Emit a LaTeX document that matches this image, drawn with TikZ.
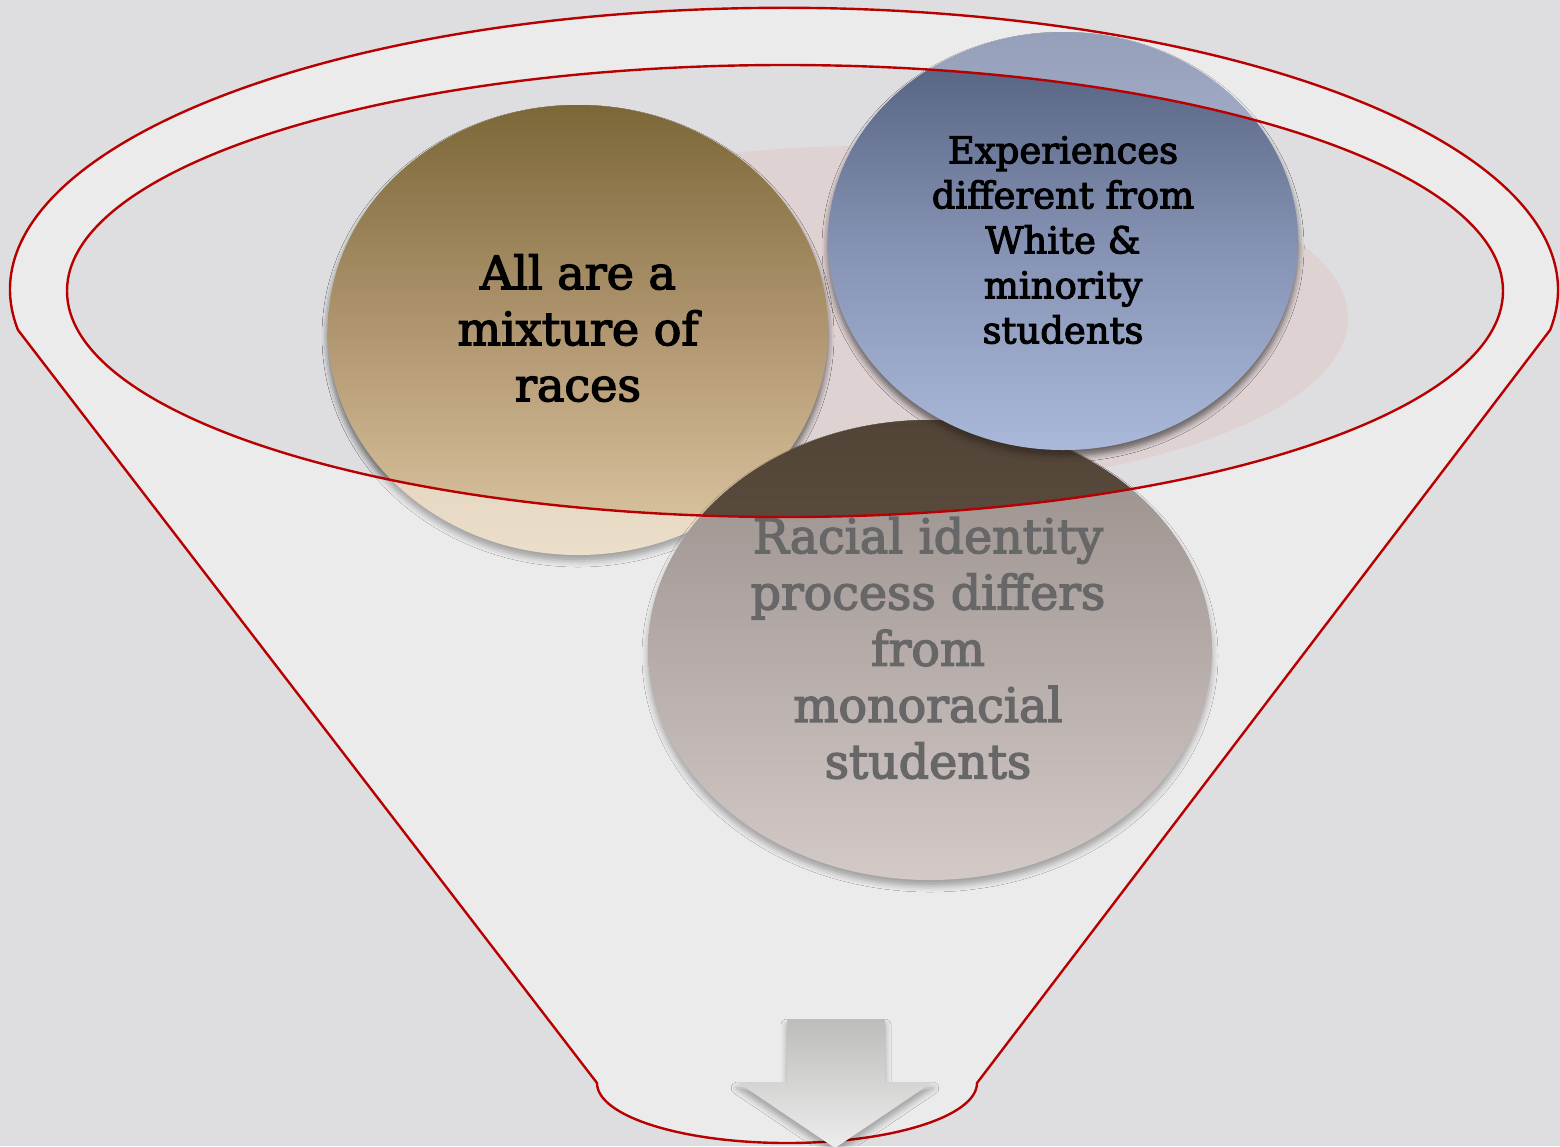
\documentclass[tikz,border=0pt]{standalone}
\usepackage{fontspec}
\setmainfont{DejaVu Serif}
\newfontfamily\slabfont{DejaVu Serif}[FakeBold=3]
\usetikzlibrary{shadows.blur}
\definecolor{bg}{HTML}{DEDEE0}
\definecolor{funnelfill}{HTML}{EBEBEB}
\definecolor{funnelline}{HTML}{B80000}
\definecolor{pinkbase}{HTML}{DFD2D3}
% dark (inside the mouth) versions
\definecolor{tantop}{HTML}{7B6738}
\definecolor{tanmid}{HTML}{B09670}
\definecolor{tanbot}{HTML}{DEC8A4}
\definecolor{bluetop}{HTML}{4F5C7B}
\definecolor{bluemid}{HTML}{8491B2}
\definecolor{bluebot}{HTML}{AAB8D9}
\definecolor{browntop}{HTML}{524337}
\definecolor{brownbot}{HTML}{736357}
% light (outside the mouth) versions
\definecolor{tanltop}{HTML}{CDB894}
\definecolor{tanlbot}{HTML}{EBDECA}
\definecolor{blueltop}{HTML}{959FBA}
\definecolor{bluelbot}{HTML}{C8D0E6}
\definecolor{brownltop}{HTML}{968D89}
\definecolor{brownlbot}{HTML}{D3CAC8}
\definecolor{graytext}{HTML}{676767}
\definecolor{arrowtop}{HTML}{BCBCBA}
\definecolor{arrowbot}{HTML}{EDEDED}
\tikzset{
  redline/.style={draw=funnelline, line width=2.4pt},
  softshadow/.style={blur shadow={shadow xshift=0pt, shadow yshift=-6pt, shadow blur radius=6pt, shadow opacity=32}},
  tantext/.style={align=center, inner sep=0pt, font=\slabfont\fontsize{46}{56}\selectfont},
  bluetext/.style={align=center, inner sep=0pt, font=\slabfont\fontsize{37}{45}\selectfont},
  browntext/.style={align=center, inner sep=0pt, text=graytext, font=\slabfont\fontsize{47.5}{56.3}\selectfont},
}
\begin{document}
\begin{tikzpicture}[x=1pt,y=-1pt]
\fill[bg] (0,0) rectangle (1560,1146);
\useasboundingbox (0,0) rectangle (1560,1146);
% funnel body
\path[fill=funnelfill, redline] (18,330)
  arc[start angle=171.8, end angle=368.2, x radius=774, y radius=282]
  -- (977,1083)
  arc[start angle=0, end angle=180, x radius=190, y radius=60]
  -- cycle;
% inner mouth fill
\fill[bg] (785,291) ellipse[x radius=718, y radius=226];
% pink base ellipse
\fill[pinkbase] (868,318) ellipse[x radius=480, y radius=172];
% arrow
\path[softshadow, top color=arrowtop, bottom color=arrowbot]
  (787,1019) -- (885,1019) -- (885,1082) -- (933,1082) -- (835,1148)
  -- (737,1082) -- (787,1082) -- cycle;
% circles, light versions (outside the mouth)
\path[softshadow, top color=tanltop, bottom color=tanlbot]
  (578,330) ellipse[x radius=250, y radius=225];
\path[softshadow, top color=brownltop, bottom color=brownlbot]
  (930,650) ellipse[x radius=282, y radius=230];
\path[softshadow, top color=blueltop, bottom color=bluelbot]
  (1063,241) ellipse[x radius=235, y radius=209];
% circles, dark versions (inside the mouth)
\begin{scope}
  \clip (785,291) ellipse[x radius=718, y radius=226];
  \path[softshadow, top color=tantop, bottom color=tanbot, middle color=tanmid]
    (578,330) ellipse[x radius=250, y radius=225];
  \path[softshadow, top color=browntop, bottom color=brownbot]
    (930,650) ellipse[x radius=282, y radius=230];
  \path[softshadow, top color=bluetop, bottom color=bluebot, middle color=bluemid]
    (1063,241) ellipse[x radius=235, y radius=209];
\end{scope}
% texts
\node[tantext] (mixture) at (578,328) {All are a\\mixture of\\races};
\node[bluetext] (experiences) at (1063,240) {Experiences\\different from\\White \&\\minority\\students};
\node[browntext] (process) at (928,648) {Racial identity\\process differs\\from\\monoracial\\students};
% inner mouth outline on top
\draw[redline] (785,291) ellipse[x radius=718, y radius=226];
\end{tikzpicture}
\end{document}
